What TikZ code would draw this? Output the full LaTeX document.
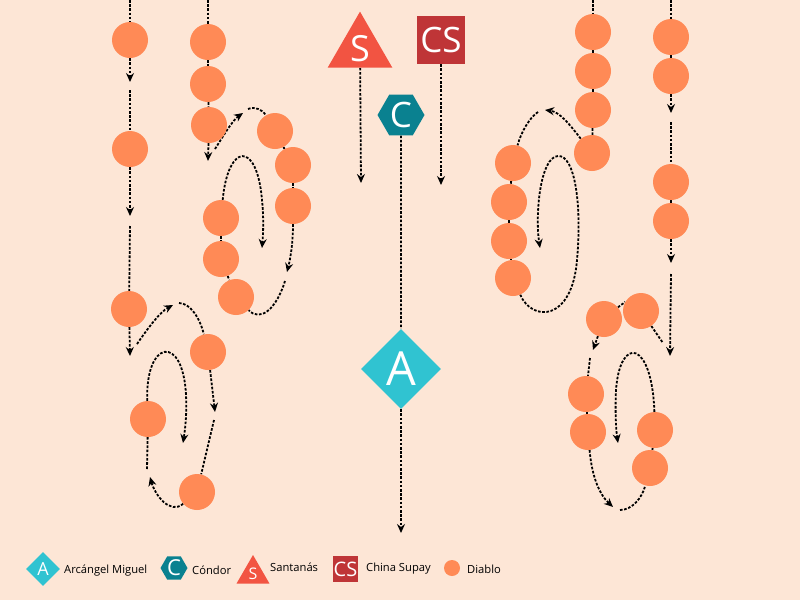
\documentclass[tikz,border=0pt]{standalone}
\usepackage{fontspec}
\setmainfont{Open Sans}
\usetikzlibrary{shapes.geometric,arrows.meta}
\definecolor{bgc}{HTML}{FDE6D6}
\definecolor{diab}{HTML}{FF8A56}
\definecolor{arc}{HTML}{30C3D1}
\definecolor{cond}{HTML}{0A8190}
\definecolor{sant}{HTML}{F25442}
\definecolor{china}{HTML}{BF3537}
\pgfdeclarelayer{bgl}
\pgfdeclarelayer{conl}
\pgfsetlayers{bgl,conl,main}
\tikzset{
  diablo/.style={circle,fill=diab,minimum size=36pt,inner sep=0pt},
  conn/.style={draw=black,line width=1.8pt,dash pattern=on 2.6pt off 1.6pt},
  tipc/.style={conn,-{Stealth[length=9pt,width=8pt,inset=3pt]}},
  arcd/.style={diamond,fill=arc,text=white,inner sep=0pt,minimum width=80pt,minimum height=80pt,font=\fontsize{47}{50}\selectfont},
  condh/.style={regular polygon,regular polygon sides=6,fill=cond,text=white,inner sep=0pt,minimum size=47pt,font=\fontsize{35}{38}\selectfont},
  santt/.style={regular polygon,regular polygon sides=3,fill=sant,text=white,inner sep=0pt,minimum size=72.7pt,font=\fontsize{36}{38}\selectfont},
  chinas/.style={rectangle,fill=china,text=white,inner sep=0pt,minimum size=48pt,font=\fontsize{35}{38}\selectfont},
  legtext/.style={anchor=base west,inner sep=0pt,font=\fontsize{11.2}{13}\selectfont,text=black}
}
\begin{document}
\begin{tikzpicture}[x=1pt,y=-1pt]
\useasboundingbox (0,0) rectangle (800,600);
\begin{pgfonlayer}{bgl}
\fill[bgc] (0,0) rectangle (800,600);
\end{pgfonlayer}

% ---------- Diablo nodes ----------
\node[diablo] (L1) at (130,40) {};
\node[diablo] (L2) at (130,149) {};
\node[diablo] (L3) at (129,309) {};
\node[diablo] (M1) at (208,42) {};
\node[diablo] (M2) at (208,84) {};
\node[diablo] (M3) at (209,125) {};
\node[diablo] (N1) at (275,131) {};
\node[diablo] (N2) at (293,165) {};
\node[diablo] (N3) at (293,206) {};
\node[diablo] (O1) at (221,218) {};
\node[diablo] (O2) at (221,259) {};
\node[diablo] (O3) at (236,297) {};
\node[diablo] (P1) at (208,352) {};
\node[diablo] (P3) at (148,419) {};
\node[diablo] (P4) at (197,492) {};
\node[diablo] (Q1) at (593,32) {};
\node[diablo] (Q2) at (593,71) {};
\node[diablo] (Q3) at (593,110) {};
\node[diablo] (Q4) at (592,153) {};
\node[diablo] (R1) at (671,37) {};
\node[diablo] (R2) at (671,76) {};
\node[diablo] (R3) at (671,182) {};
\node[diablo] (R4) at (671,221) {};
\node[diablo] (S1) at (513,163) {};
\node[diablo] (S2) at (509,202) {};
\node[diablo] (S3) at (509,241) {};
\node[diablo] (S4) at (513,278) {};
\node[diablo] (T1) at (604,319) {};
\node[diablo] (T2) at (641,311) {};
\node[diablo] (U1) at (586,394) {};
\node[diablo] (U2) at (588,432) {};
\node[diablo] (V1) at (655,430) {};
\node[diablo] (V2) at (650,468) {};

% ---------- centre figures ----------
\node[santt] (SA) at (360,49) {S};
\node[chinas] (CS) at (441,40) {CS};
\node[condh] (CO) at (401,115) {C};
\node[arcd] (AM) at (401,369) {A};

% ---------- free ends ----------
\coordinate (t1) at (130,0);
\coordinate (t2) at (208,0);
\coordinate (t3) at (593,0);
\coordinate (t4) at (671,0);
\coordinate (a1) at (130,82);  \coordinate (b1) at (130,90);
\coordinate (a2) at (130,216); \coordinate (b2) at (130,226);
\coordinate (a3) at (130,356);
\coordinate (a4) at (208,161);
\coordinate (d1) at (215,149); \coordinate (a5) at (243,113); \coordinate (b5) at (248,109);
\coordinate (a6) at (287,272); \coordinate (b6) at (285,281);
\coordinate (c7) at (262,200); \coordinate (a7) at (262,248);
\coordinate (d2) at (137,344); \coordinate (a8) at (173,305); \coordinate (b8) at (179,303);
\coordinate (a9) at (215,412); \coordinate (b9) at (214,420);
\coordinate (a10) at (150,477); \coordinate (b10) at (147,469);
\coordinate (c11) at (186,395); \coordinate (a11) at (183,443);
\coordinate (a12) at (671,113); \coordinate (b12) at (671,122);
\coordinate (a13) at (671,263); \coordinate (b13) at (671,274);
\coordinate (a14) at (670,356);
\coordinate (a15) at (545,110); \coordinate (b15) at (538,112);
\coordinate (c16) at (577,260); \coordinate (c17) at (558,156); \coordinate (a16) at (540,248);
\coordinate (e1) at (663,343);
\coordinate (a17) at (593,350); \coordinate (b17) at (590,358);
\coordinate (a18) at (613,507); \coordinate (b18) at (620,510);
\coordinate (c19) at (616,390); \coordinate (a19) at (618,443);
\coordinate (sa) at (361,183);
\coordinate (csa) at (441,185);
\coordinate (ama) at (401,533);

\begin{pgfonlayer}{conl}
% column 1
\draw[conn] (t1) -- (L1);
\draw[tipc] (L1) -- (a1);
\draw[conn] (b1) -- (L2);
\draw[tipc] (L2) -- (a2);
\draw[conn] (b2) -- (L3);
\draw[tipc] (L3) -- (a3);
% column 2
\draw[conn] (t2) -- (M1);
\draw[conn] (M1) -- (M2);
\draw[conn] (M2) -- (M3);
\draw[tipc] (M3) -- (a4);
\draw[tipc] (d1) .. controls (225,133) and (233,120) .. (a5);
\draw[conn] (b5) .. controls (255,106) and (263,110) .. (N1);
\draw[conn] (N1) -- (N2);
\draw[conn] (N2) -- (N3);
\draw[tipc] (N3) .. controls (293,245) and (290,260) .. (a6);
\draw[conn] (b6) .. controls (276,310) and (260,322) .. (O3);
\draw[conn] (O1) -- (O2);
\draw[conn] (O2) -- (O3);
\draw[tipc] (O1) .. controls (228,143) and (257,140) .. (c7) .. controls (264,220) and (263,235) .. (a7);
% bottom left loop
\draw[tipc] (d2) .. controls (148,328) and (160,312) .. (a8);
\draw[conn] (b8) .. controls (190,303) and (200,318) .. (P1);
\draw[tipc] (P1) -- (a9);
\draw[conn] (b9) -- (P4);
\draw[tipc] (P4) .. controls (170,515) and (155,495) .. (a10);
\draw[conn] (b10) -- (P3);
\draw[tipc] (P3) .. controls (145,340) and (183,333) .. (c11) .. controls (187,415) and (185,430) .. (a11);
% right columns
\draw[conn] (t3) -- (Q1);
\draw[conn] (Q1) -- (Q2);
\draw[conn] (Q2) -- (Q3);
\draw[conn] (Q3) -- (Q4);
\draw[conn] (t4) -- (R1);
\draw[conn] (R1) -- (R2);
\draw[tipc] (R2) -- (a12);
\draw[conn] (b12) -- (R3);
\draw[conn] (R3) -- (R4);
\draw[tipc] (R4) -- (a13);
\draw[tipc] (b13) -- (a14);
% right upper loop
\draw[tipc] (Q4) .. controls (570,125) and (560,112) .. (a15);
\draw[conn] (b15) .. controls (530,117) and (521,132) .. (S1);
\draw[conn] (S1) -- (S2);
\draw[conn] (S2) -- (S3);
\draw[conn] (S3) -- (S4);
\draw[tipc] (S4) .. controls (532,322) and (572,322) .. (c16) .. controls (582,205) and (575,155) .. (c17) .. controls (540,157) and (535,215) .. (a16);
% right lower loop
\draw[conn] (T1.40) -- (T2.150);
\draw[conn] (T2) -- (e1);
\draw[tipc] (T1) -- (a17);
\draw[conn] (b17) -- (U1);
\draw[conn] (U1) -- (U2);
\draw[tipc] (U2) .. controls (592,478) and (600,495) .. (a18);
\draw[conn] (b18) .. controls (632,510) and (642,498) .. (V2);
\draw[conn] (V1) -- (V2);
\draw[tipc] (V1) .. controls (652,340) and (620,335) .. (c19) .. controls (615,410) and (616,430) .. (a19);
% centre
\draw[tipc] (SA) -- (sa);
\draw[tipc] (CS) -- (csa);
\draw[conn] (CO) -- (AM);
\draw[tipc] (AM) -- (ama);
\end{pgfonlayer}

% ---------- legend ----------
\node[arcd,minimum width=34pt,minimum height=34pt,font=\fontsize{18}{20}\selectfont] (lA) at (43,569) {A};
\node[legtext] (tA) at (64,573) {Arcángel Miguel};
\node[condh,minimum size=27pt,font=\fontsize{22}{24}\selectfont] (lC) at (174,568) {C};
\node[legtext] (tC) at (192,574) {Cóndor};
\node[santt,minimum size=38pt,font=\fontsize{16}{18}\selectfont] (lS) at (253,574) {S};
\node[legtext] (tS) at (270,571.5) {Santanás};
\node[chinas,minimum width=25pt,minimum height=26pt,font=\fontsize{20}{22}\selectfont] (lCS) at (345.5,569) {CS};
\node[legtext] (tCS) at (366,571.5) {China Supay};
\node[diablo,minimum size=16pt] (lD) at (452,568) {};
\node[legtext] (tD) at (467,573) {Diablo};
\end{tikzpicture}
\end{document}
